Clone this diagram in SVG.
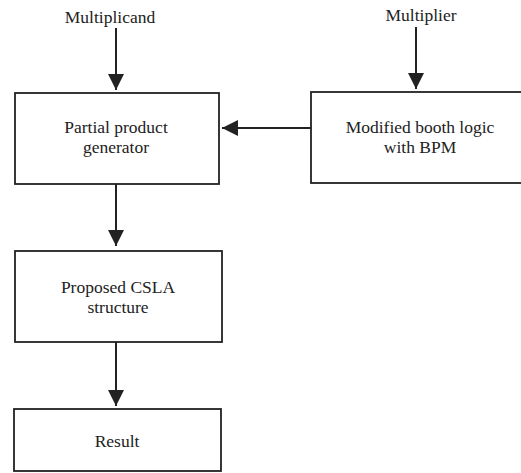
<svg xmlns="http://www.w3.org/2000/svg" width="521" height="473" viewBox="0 0 521 473">
<style>
.box{fill:#fff;stroke:#222;stroke-width:1.8}
.t{font-family:'Liberation Serif','DejaVu Serif',serif;font-size:17.5px;fill:#222;text-anchor:middle}
.ln{stroke:#222;stroke-width:2;fill:none}
</style>
<defs>
<marker id="ah" markerWidth="16" markerHeight="16" refX="16" refY="8" orient="auto" markerUnits="userSpaceOnUse">
<path d="M0,0 L16,8 L0,16 Z" fill="#222"/>
</marker>
</defs>
<rect width="521" height="473" fill="#fff"/>
<g id="multiplicand"><text class="t" font-family="Liberation Serif, serif" x="110" y="23">Multiplicand</text></g>
<g id="multiplier"><text class="t" font-family="Liberation Serif, serif" x="421" y="21">Multiplier</text></g>
<g id="ppg">
<rect class="box" x="15" y="93" width="204" height="91"/>
<text class="t" font-family="Liberation Serif, serif" x="116" y="133">Partial product</text>
<text class="t" font-family="Liberation Serif, serif" x="116" y="153">generator</text>
</g>
<g id="booth">
<rect class="box" x="311" y="92" width="215" height="91"/>
<text class="t" font-family="Liberation Serif, serif" x="420" y="133">Modified booth logic</text>
<text class="t" font-family="Liberation Serif, serif" x="420" y="153">with BPM</text>
</g>
<g id="csla">
<rect class="box" x="15" y="251" width="207" height="91"/>
<text class="t" font-family="Liberation Serif, serif" x="118" y="293">Proposed CSLA</text>
<text class="t" font-family="Liberation Serif, serif" x="118" y="313">structure</text>
</g>
<g id="result">
<rect class="box" x="14" y="409" width="207" height="62"/>
<text class="t" font-family="Liberation Serif, serif" x="117" y="447">Result</text>
</g>
<g id="connectors">
<line class="ln" x1="116" y1="28" x2="116" y2="90" marker-end="url(#ah)"/>
<line class="ln" x1="416" y1="27" x2="416" y2="89" marker-end="url(#ah)"/>
<line class="ln" x1="311" y1="128" x2="222" y2="128" marker-end="url(#ah)"/>
<line class="ln" x1="116" y1="184" x2="116" y2="246" marker-end="url(#ah)"/>
<line class="ln" x1="116" y1="342" x2="116" y2="406" marker-end="url(#ah)"/>
</g>
</svg>
